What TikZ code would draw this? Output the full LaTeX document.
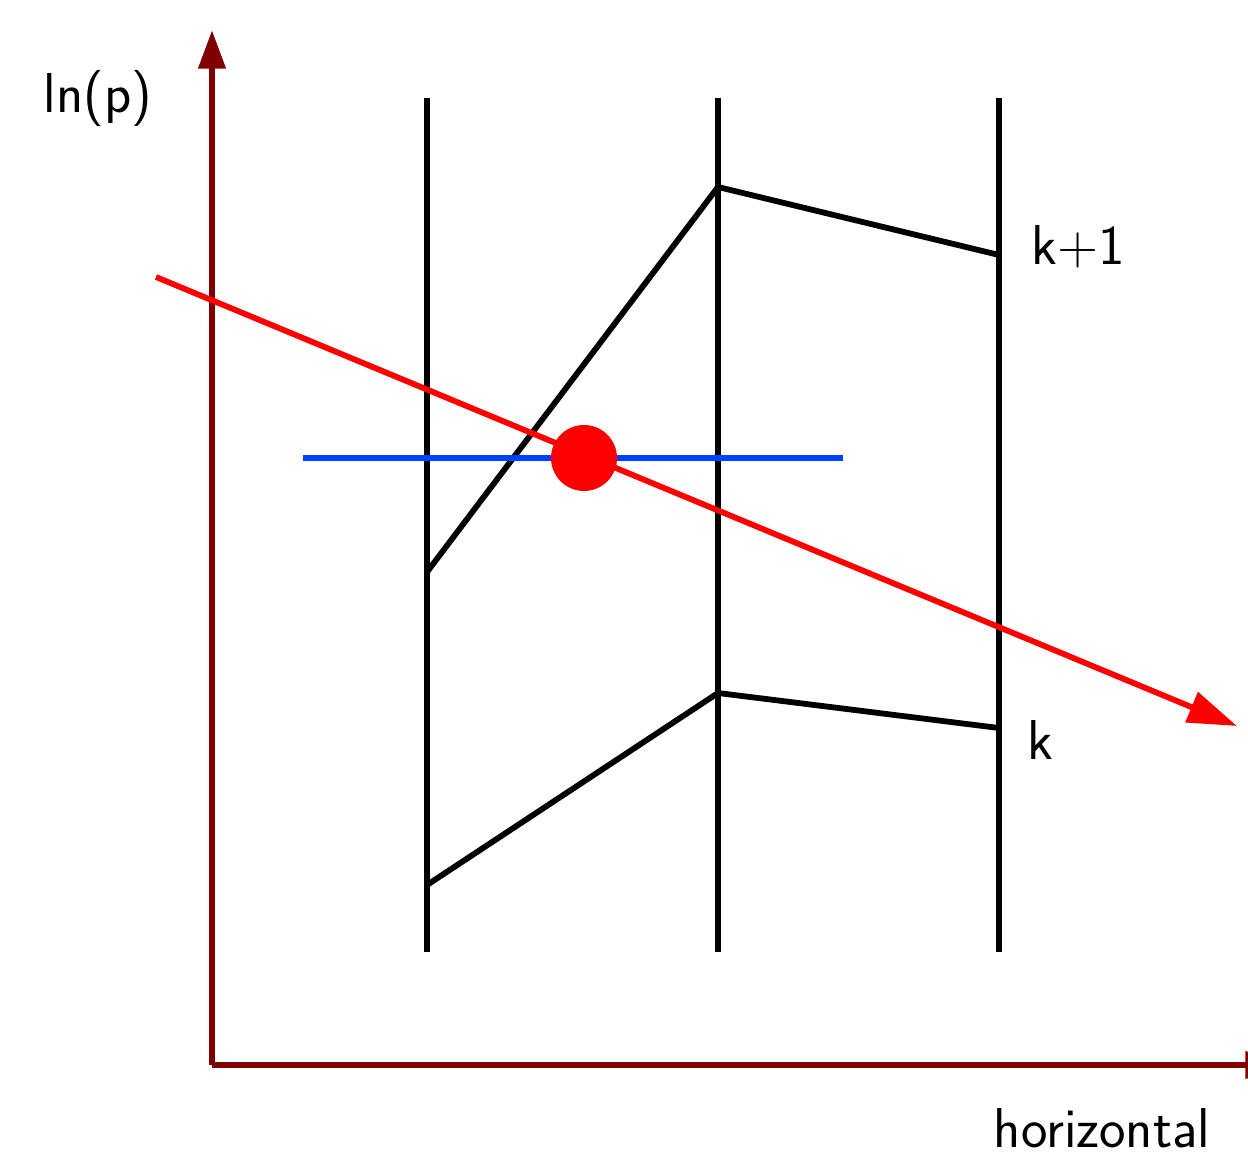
\documentclass[tikz,border=0pt]{standalone}
\usetikzlibrary{arrows.meta}
\definecolor{axred}{RGB}{128,0,0}
\definecolor{lineblue}{RGB}{0,64,255}
\begin{document}
\begin{tikzpicture}[x=0.02cm,y=-0.02cm,
  axis/.style={draw=axred,line width=3.6pt,-{Triangle[length=22pt,width=15pt]}},
  level/.style={draw=black,line width=3.8pt},
  surf/.style={draw=black,line width=3.3pt,line join=miter},
  lbl/.style={font=\sffamily\fontsize{32}{38}\selectfont,inner sep=0pt}]
\useasboundingbox (0,0) rectangle (1248,1152);
\clip (0,0) rectangle (1248,1152);
% axes
\coordinate (o) at (212,1065);
\coordinate (ytop) at (212,30);
\coordinate (xend) at (1284,1065);
\draw[axis] (o) -- (ytop);
\draw[axis] (o) -- (xend);
% verticals
\coordinate (v1t) at (427,98); \coordinate (v1b) at (427,952);
\coordinate (v2t) at (718,98); \coordinate (v2b) at (718,952);
\coordinate (v3t) at (999,98); \coordinate (v3b) at (999,952);
\draw[level] (v1t) -- (v1b);
\draw[level] (v2t) -- (v2b);
\draw[level] (v3t) -- (v3b);
% surfaces
\coordinate (u1) at (427,572); \coordinate (u2) at (718,187); \coordinate (u3) at (999,255);
\coordinate (l1) at (427,885); \coordinate (l2) at (718,693); \coordinate (l3) at (999,728);
\draw[surf] (u1) -- (u2) -- (u3);
\draw[surf] (l1) -- (l2) -- (l3);
% blue line
\coordinate (b1) at (303,458); \coordinate (b2) at (843,458);
\draw[lineblue,line width=3.3pt] (b1) -- (b2);
% red line
\coordinate (r1) at (156,277); \coordinate (r2) at (1237,726);
\draw[red,line width=3.3pt,-{Triangle[length=28pt,width=18pt]}] (r1) -- (r2);
\fill[red] (584,458) circle[radius=33];
% labels
\node[lbl] (kk1) at (1078,247) {k+1};
\node[lbl] (kk) at (1040,740) {k};
\node[lbl] (lnp) at (98,98) {ln(p)};
\node[lbl] (hor) at (1102,1128) {horizontal};
\end{tikzpicture}
\end{document}
